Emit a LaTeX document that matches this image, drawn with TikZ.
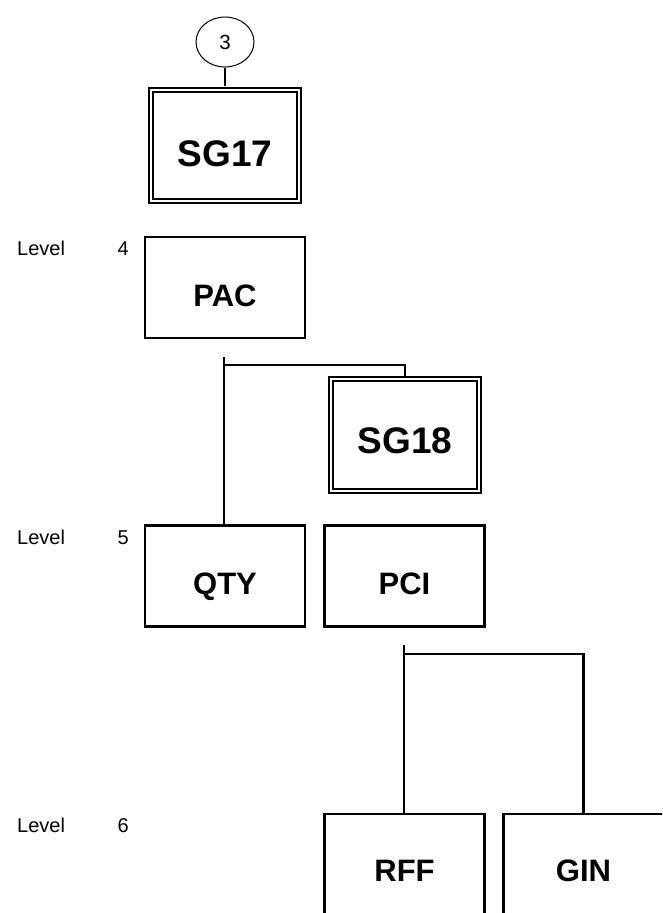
\documentclass[tikz,border=0pt]{standalone}
\usepackage{fontspec}
\setmainfont{Liberation Sans}
\usetikzlibrary{shapes.geometric}
\begin{document}
\begin{tikzpicture}[x=1pt,y=-1pt,
  box/.style={draw, line width=2.3pt, fill=white, minimum width=160pt, minimum height=101pt, inner sep=0pt},
  sgbox/.style={draw, line width=1.7pt, double=white, double distance=2.2pt, fill=white, minimum width=148.5pt, minimum height=111.5pt, inner sep=0pt},
  boxtxt/.style={font=\bfseries\fontsize{31}{31}\selectfont, anchor=base, inner sep=0pt},
  sgtxt/.style={font=\bfseries\fontsize{37}{37}\selectfont, anchor=base, inner sep=0pt},
  lvl/.style={font=\fontsize{20}{20}\selectfont, inner sep=0pt},
  conn/.style={line width=2.3pt}]
\clip (0,0) rectangle (662,913);
\fill[white] (0,0) rectangle (662,913);

% level labels
\node[lvl, anchor=base west] (lv4) at (17,255) {Level};
\node[lvl, anchor=base east] (n4) at (129,255) {4};
\node[lvl, anchor=base west] (lv5) at (17,544) {Level};
\node[lvl, anchor=base east] (n5) at (129,544) {5};
\node[lvl, anchor=base west] (lv6) at (17,832) {Level};
\node[lvl, anchor=base east] (n6) at (129,832) {6};

% nodes
\node[draw, ellipse, line width=1pt, minimum width=58pt, minimum height=50pt, inner sep=0pt, font=\fontsize{20.5}{21}\selectfont] (c3) at (225,42) {3};
\node[sgbox] (sg17) at (225,145.5) {};
\node[sgtxt] (sg17t) at (225,166) {SG17};
\node[box] (pac) at (225,287.5) {};
\node[boxtxt] (pact) at (225,306) {PAC};
\node[sgbox] (sg18) at (405,435) {};
\node[sgtxt] (sg18t) at (405,453) {SG18};
\node[box] (qty) at (225,576) {};
\node[boxtxt] (qtyt) at (225,594) {QTY};
\node[box] (pci) at (404.5,576) {};
\node[boxtxt] (pcit) at (404.5,594) {PCI};
\node[box] (rff) at (404.5,864.5) {};
\node[boxtxt] (rfft) at (404.5,881) {RFF};
\node[box, minimum width=163pt] (gin) at (585,864.5) {};
\node[boxtxt] (gint) at (583.5,881) {GIN};

% connectors
\draw[conn, shorten >=2.8pt] (c3.south) -- (sg17.north);
\coordinate (j1) at (224,357);
\coordinate (j1b) at (224,365);
\draw[conn] (j1) -- (j1 |- qty.north);
\draw[conn, shorten >=2.8pt] (j1b) -| (sg18.north);
\coordinate (j2) at (404,645);
\coordinate (j2b) at (404,654);
\coordinate (j2c) at (583.5,654);
\draw[conn] (j2) -- (j2 |- rff.north);
\draw[conn] (j2b) -- (j2c) -- (j2c |- gin.north);
\end{tikzpicture}
\end{document}
